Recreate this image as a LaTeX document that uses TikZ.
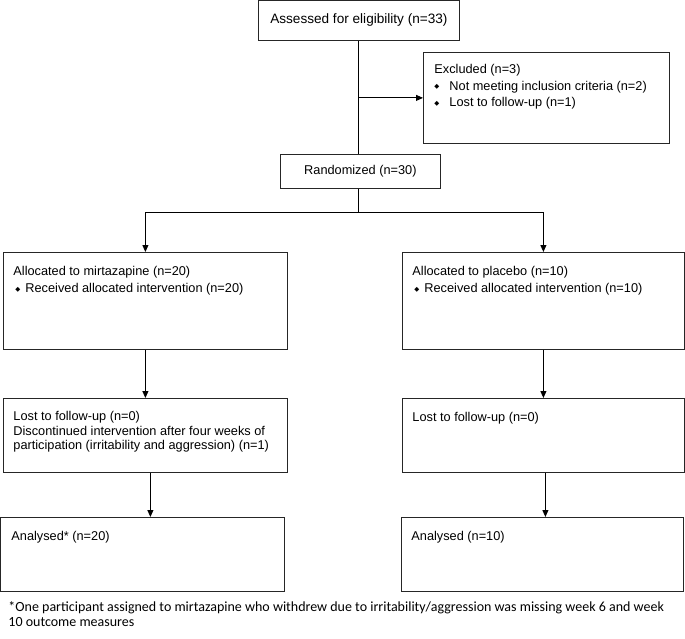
\documentclass[tikz,border=0pt]{standalone}
\usepackage{fontspec}
\setmainfont{Liberation Sans}
\newfontfamily\notefont{Carlito}
\newfontfamily\symfont{DejaVu Sans}
\usetikzlibrary{arrows.meta}
\newcommand{\dia}{\raisebox{0.25ex}{\symfont\fontsize{6.5}{6.5}\selectfont ◆}}
\tikzset{
	main box/.style={draw=black!85,line width=0.8pt,anchor=north west,inner sep=0pt,
		font=\fontsize{12.75}{15.5}\selectfont},
	box text/.style={anchor=north west,align=left,inner sep=0pt,
		font=\fontsize{12.75}{15.5}\selectfont},
	note text/.style={anchor=north west,align=left,inner sep=0pt,
		font=\notefont\fontsize{14}{15.5}\selectfont}
}

\begin{document}
\begin{tikzpicture}[x=1pt,y=-1pt,->,>={Triangle[length=7pt,width=6pt]},line width=0.9pt]
	\useasboundingbox (0,0) rectangle (685,639);
	% boxes
	\node [main box,minimum width=201pt,minimum height=40pt,font=\fontsize{13.6}{16}\selectfont] (assess) at (258,0) {Assessed for eligibility (n=33)};
	\node [main box,minimum width=246pt,minimum height=91pt] (excl) at (423,52) {};
	\node [main box,minimum width=160pt,minimum height=34pt] (rand) at (280,154) {Randomized (n=30)};
	\node [main box,minimum width=284pt,minimum height=97pt] (allocL) at (3,252) {};
	\node [main box,minimum width=282pt,minimum height=97pt] (allocR) at (402,252) {};
	\node [main box,minimum width=284pt,minimum height=74pt] (lostL) at (3,398) {};
	\node [main box,minimum width=282pt,minimum height=74pt] (lostR) at (402,398) {};
	\node [main box,minimum width=284pt,minimum height=74pt] (anaL) at (0,517) {};
	\node [main box,minimum width=282pt,minimum height=74pt] (anaR) at (401,517) {};
	% box texts
	\node [box text] (exclT) at ([xshift=11pt,yshift=-12pt]excl.north west)
		{Excluded (n=3)\\[1pt]
		 \makebox[15pt][l]{\dia}Not meeting inclusion criteria (n=2)\\[1pt]
		 \makebox[15pt][l]{\dia}Lost to follow-up (n=1)};
	\node [box text] (allocLT) at ([xshift=10pt,yshift=-13.5pt]allocL.north west)
		{Allocated to mirtazapine (n=20)\\[2pt]
		 \hspace{2pt}\makebox[10pt][l]{\dia}Received allocated intervention (n=20)};
	\node [box text] (allocRT) at ([xshift=10pt,yshift=-13.5pt]allocR.north west)
		{Allocated to placebo (n=10)\\[2pt]
		 \hspace{2pt}\makebox[10pt][l]{\dia}Received allocated intervention (n=10)};
	\node [box text] (lostLT) at ([xshift=10pt,yshift=-13pt]lostL.north west)
		{Lost to follow-up (n=0)\\[-1pt]
		 Discontinued intervention after four weeks of\\[-1pt]
		 participation (irritability and aggression) (n=1)};
	\node [box text] (lostRT) at ([xshift=10pt,yshift=-13.5pt]lostR.north west)
		{Lost to follow-up (n=0)};
	\node [box text] (anaLT) at ([xshift=11pt,yshift=-13.5pt]anaL.north west)
		{Analysed* (n=20)};
	\node [box text] (anaRT) at ([xshift=10pt,yshift=-13.5pt]anaR.north west)
		{Analysed (n=10)};
	% footnote
	\node [note text] (note) at (8,601)
		{*One participant assigned to mirtazapine who withdrew due to irritability/aggression was missing week 6 and week\\
		 10 outcome measures};
	% connectors
	\draw [-] (assess.south) -- (assess.south |- rand.north);
	\draw (assess.south |- excl.west) -- (excl.west);
	\coordinate (fork) at (assess.south |- 0,212);
	\draw [-] (assess.south |- rand.south) -- (fork);
	\draw (fork) -| (allocL.north);
	\draw (fork) -| (allocR.north);
	\draw (allocL) -- (lostL);
	\draw (allocR) -- (lostR);
	\draw ([xshift=5pt]lostL.south) -- ([xshift=5pt]lostL.south |- anaL.north);
	\draw ([xshift=2pt]lostR.south) -- ([xshift=2pt]lostR.south |- anaR.north);
\end{tikzpicture}
\end{document}
